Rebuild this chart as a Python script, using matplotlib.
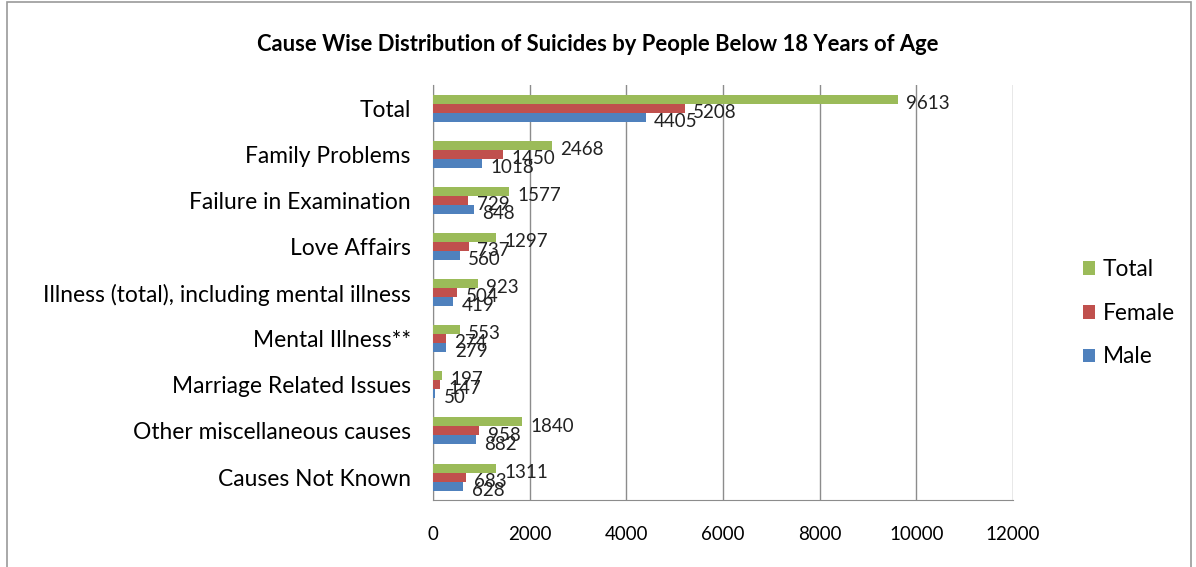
import numpy as np
import matplotlib.pyplot as plt
from matplotlib.patches import Rectangle

# data
causes = ["Total", "Family Problems", "Failure in Examination", "Love Affairs",
          "Illness (total), including mental illness", "Mental Illness**",
          "Marriage Related Issues", "Other miscellaneous causes", "Causes Not Known"]
total = [9613, 2468, 1577, 1297, 923, 553, 197, 1840, 1311]
female = [5208, 1450, 729, 737, 504, 274, 147, 958, 683]
male = [4405, 1018, 848, 560, 419, 279, 50, 882, 628]

c_total = "#9BBB59"
c_female = "#C0504D"
c_male = "#4F81BD"

plt.rcParams['font.family'] = ['Lato', 'DejaVu Sans']

fig = plt.figure(figsize=(11.96, 5.67), dpi=100)
ax = fig.add_axes([0.362, 0.118, 0.485, 0.732])

y = np.arange(len(causes))
h = 0.195
series = [("Total", total, c_total, -h), ("Female", female, c_female, 0), ("Male", male, c_male, h)]
for name, vals, col, off in series:
    bars = ax.barh(y + off, vals, height=h, color=col, label=name, zorder=3)
    for b, v in zip(bars, vals):
        ax.annotate(str(v), (b.get_width(), b.get_y() + b.get_height() / 2),
                    xytext=(6, -3), textcoords="offset points",
                    ha="left", va="center", fontsize=13.5, color="#222222", zorder=4)

ax.set_xlim(0, 12000)
ax.set_ylim(len(causes) - 0.5, -0.5)
ax.set_xticks(range(0, 12001, 2000))
ax.set_yticks(y)
ax.set_yticklabels(causes, fontsize=16.4)
ax.tick_params(axis="x", length=0, pad=19, labelsize=13.5)
ax.tick_params(axis="y", length=0, pad=16)
ax.grid(axis="x", color="#8c8c8c", linewidth=1, zorder=0)
for s in ["top", "right"]:
    ax.spines[s].set_visible(False)
for s in ["left", "bottom"]:
    ax.spines[s].set_color("#8c8c8c")

ax.legend(loc="center left", bbox_to_anchor=(1.085, 0.45), frameon=False,
          fontsize=16.3, handlelength=0.55, handleheight=0.55, handletextpad=0.35,
          labelspacing=1.0)

fig.text(0.5, 0.921, "Cause Wise Distribution of Suicides by People Below 18 Years of Age",
         ha="center", va="center", fontsize=15.8, fontweight="bold")

fig.patches.append(Rectangle((0.006, -0.01), 0.99, 1.007, transform=fig.transFigure,
                             fill=False, edgecolor="#9a9a9a", linewidth=1.2))

fig.savefig("out.png", dpi=100)
